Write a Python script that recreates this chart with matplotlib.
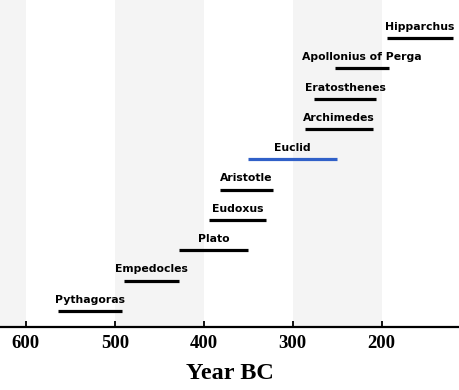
import matplotlib
matplotlib.use("Agg")
import matplotlib.pyplot as plt

names = ["Pythagoras", "Empedocles", "Plato", "Eudoxus", "Aristotle",
         "Euclid", "Archimedes", "Eratosthenes", "Apollonius of Perga", "Hipparchus"]
start = [564, 490, 428, 394, 382, 350, 286, 276, 253, 194]
end = [492, 428, 350, 330, 322, 250, 210, 206, 192, 120]
colors = ["black"] * 5 + ["#3060c8"] + ["black"] * 4
ticks = [600, 500, 400, 300, 200]

fig = plt.figure(figsize=(4.6, 3.9), dpi=100)
ax = fig.add_axes([0, 0.1615, 1, 0.8385])
ax.set_xlim(629, 112)
ax.set_ylim(0.47, 11.26)

bands = [(629, 600), (500, 400), (300, 200)]
for a, b in bands:
    ax.axvspan(b, a, color="#f4f4f4", lw=0, zorder=0)

for i, (n, s, e, c) in enumerate(zip(names, start, end, colors)):
    y = i + 1
    ax.plot([s, e], [y, y], color=c, lw=2.3, solid_capstyle="butt", zorder=2)
    ax.annotate(n, ((s + e) / 2, y), xytext=(0, 4.5), textcoords="offset points",
                ha="center", va="bottom", fontsize=7.8, fontweight="bold",
                family="DejaVu Sans", color="black")

for sp in ["top", "left", "right"]:
    ax.spines[sp].set_visible(False)
ax.spines["bottom"].set_linewidth(1.6)
ax.set_yticks([])
ax.set_xticks(ticks)
ax.set_xticklabels([str(t) for t in ticks], fontsize=13.5, fontweight="bold",
                   family="Liberation Serif")
ax.tick_params(axis="x", direction="in", length=4, width=1.3, pad=6)
ax.set_xlabel("Year BC", fontsize=17.5, fontweight="bold", family="Liberation Serif",
              labelpad=8)

fig.savefig("out.png", dpi=100)
